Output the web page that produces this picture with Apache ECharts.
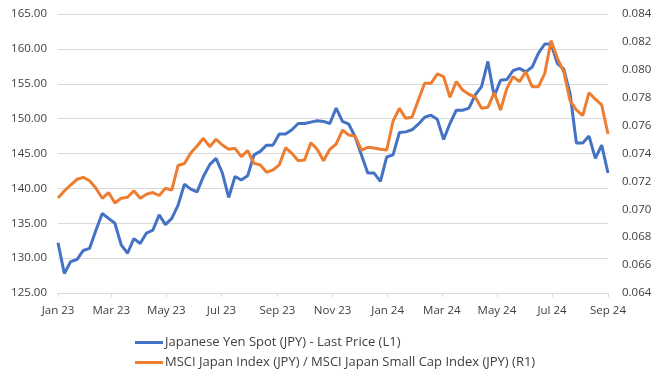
<!DOCTYPE html>
<html>
<head>
<meta charset="utf-8">
<script src="https://cdn.jsdelivr.net/npm/echarts@6/dist/echarts.min.js"></script>
<style>
html,body{margin:0;padding:0;background:#fff;}
#c{width:664px;height:382px;}
</style>
</head>
<body>
<div id="c"></div>
<script>
// Weekly observations, first week and count
const startDate = '2023-01-01';
const seriesNames = ['Japanese Yen Spot (JPY) - Last Price (L1)', 'MSCI Japan Index (JPY) / MSCI Japan Small Cap Index (JPY) (R1)'];
const jpyValues = [132.2,127.8,129.5,129.8,131.1,131.4,134.0,136.4,135.7,135.0,
131.9,130.7,132.8,132.1,133.6,134.0,136.2,134.8,135.7,137.6,
140.6,139.9,139.5,141.7,143.4,144.3,142.2,138.7,141.7,141.2,
141.8,144.8,145.3,146.2,146.2,147.8,147.8,148.4,149.3,149.3,
149.5,149.7,149.6,149.3,151.5,149.6,149.2,147.4,144.8,142.2,
142.2,141.0,144.5,144.8,148.0,148.1,148.4,149.2,150.2,150.5,
149.9,147.0,149.3,151.2,151.2,151.5,153.4,154.6,158.2,153.2,
155.5,155.6,156.9,157.2,156.7,157.4,159.4,160.7,160.7,157.9,
157.1,153.6,146.5,146.5,147.5,144.3,146.2,142.2];
const ratioValues = [0.07081,0.07131,0.07174,0.07215,0.07229,0.07205,0.07151,0.07079,0.07120,0.07045,
0.07079,0.07086,0.07133,0.07079,0.07108,0.07120,0.07099,0.07151,0.07138,0.07314,
0.07328,0.07404,0.07454,0.07509,0.07449,0.07502,0.07461,0.07430,0.07437,0.07377,
0.07420,0.07330,0.07318,0.07265,0.07282,0.07318,0.07442,0.07401,0.07348,0.07353,
0.07477,0.07430,0.07348,0.07430,0.07468,0.07568,0.07533,0.07525,0.07425,0.07444,
0.07439,0.07430,0.07425,0.07633,0.07724,0.07652,0.07660,0.07784,0.07903,0.07903,
0.07970,0.07951,0.07803,0.07915,0.07855,0.07824,0.07805,0.07724,0.07731,0.07836,
0.07712,0.07867,0.07951,0.07915,0.07986,0.07879,0.07879,0.07975,0.08209,0.08082,
0.07986,0.07779,0.07712,0.07671,0.07836,0.07789,0.07748,0.07540];
const tickDates = ['2023-01-01','2023-03-01','2023-05-01','2023-07-01','2023-09-01','2023-11-01','2024-01-01','2024-03-01','2024-05-01','2024-07-01','2024-09-01'];
const tickLabels = ['Jan 23','Mar 23','May 23','Jul 23','Sep 23','Nov 23','Jan 24','Mar 24','May 24','Jul 24','Sep 24'];

const DAY = 86400000;
const t0 = Date.parse(startDate + 'T00:00:00Z');
const dayOf = s => Math.round((Date.parse(s + 'T00:00:00Z') - t0) / DAY);
const weekDays = jpyValues.map((_, i) => i * 7);
const tickDays = tickDates.map(dayOf);
const labelMap = {};
tickDays.forEach((d, i) => { labelMap[d] = tickLabels[i]; });

const font = '"Open Sans", sans-serif';
const txt = '#404040';
const chart = echarts.init(document.getElementById('c'), null, {renderer: 'canvas'});
chart.setOption({
  animation: false,
  grid: {left: 58, right: 56, top: 14, bottom: 89, containLabel: false},
  legend: {
    orient: 'vertical', left: 130, top: 331, itemGap: 7,
    itemWidth: 28, itemHeight: 3, icon: 'rect',
    textStyle: {color: txt, fontFamily: font, fontSize: 13, padding: [0, 0, 0, -3]},
    data: seriesNames
  },
  xAxis: {
    type: 'value', min: tickDays[0], max: tickDays[tickDays.length - 1],
    axisLine: {show: true, lineStyle: {color: '#d9d9d9', width: 1}},
    axisTick: {show: true, length: 4, customValues: tickDays, lineStyle: {color: '#d9d9d9'}},
    axisLabel: {customValues: tickDays, formatter: v => labelMap[v] || '', color: txt, fontFamily: font, fontSize: 11.5, margin: 12},
    splitLine: {show: false}
  },
  yAxis: [{
    type: 'value', min: 125, max: 165, interval: 5, position: 'left',
    axisLine: {show: false}, axisTick: {show: false},
    axisLabel: {formatter: v => v.toFixed(2), color: txt, fontFamily: font, fontSize: 11.5, margin: 11},
    splitLine: {show: true, lineStyle: {color: '#d9d9d9', width: 1}}
  }, {
    type: 'value', min: 0.064, max: 0.084, interval: 0.002, position: 'right',
    axisLine: {show: false}, axisTick: {show: false},
    axisLabel: {formatter: v => v.toFixed(3), color: txt, fontFamily: font, fontSize: 11.5, margin: 14},
    splitLine: {show: false}
  }],
  series: [{
    name: seriesNames[0], type: 'line', yAxisIndex: 0, showSymbol: false,
    lineStyle: {color: '#4472C4', width: 3}, itemStyle: {color: '#4472C4'},
    data: jpyValues.map((v, i) => [weekDays[i], v])
  }, {
    name: seriesNames[1], type: 'line', yAxisIndex: 1, showSymbol: false,
    lineStyle: {color: '#ED7D31', width: 3}, itemStyle: {color: '#ED7D31'},
    data: ratioValues.map((v, i) => [weekDays[i], v])
  }]
});
</script>
</body>
</html>
